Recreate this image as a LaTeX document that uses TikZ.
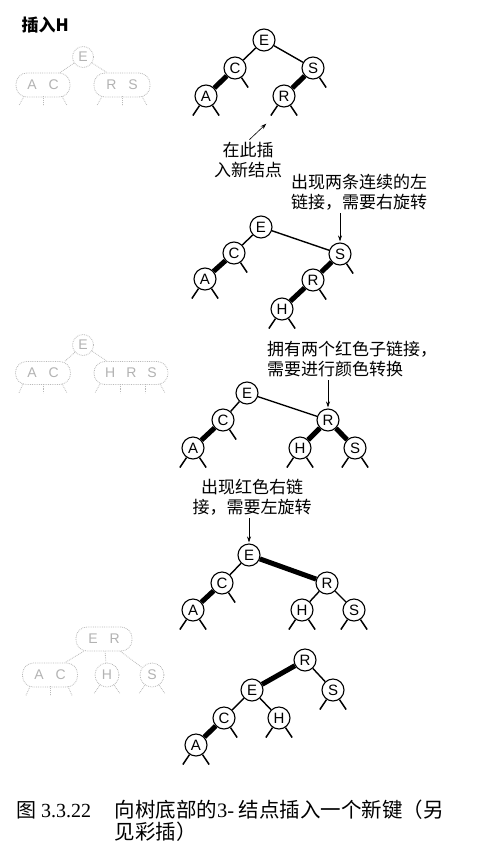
\documentclass[tikz,border=0pt]{standalone}
\usepackage{fontspec}
\setmainfont{Liberation Serif}
\newfontfamily\cjk{Noto Sans CJK SC}
\newfontfamily\keyfont{Liberation Sans}
\usetikzlibrary{positioning,calc,arrows.meta}

\tikzset{
  key/.style={circle, draw, line width=1.1pt, minimum size=22pt, inner sep=0pt,
    font=\keyfont\fontsize{15}{15}\selectfont},
  blink/.style={line width=1.4pt},
  rlink/.style={line width=5pt},
  stub/.style={line width=1.5pt},
  note/.style={font=\cjk\fontsize{17}{20}\selectfont, inner sep=1pt},
  arr/.style={-{Stealth[length=6pt,width=4pt]}, line width=0.6pt, shorten <=2pt, shorten >=1pt},
  gline/.style={draw=gray!55, densely dotted, line width=0.8pt},
  gnode/.style={gline, text=gray!60, font=\keyfont\fontsize{14}{14}\selectfont, inner sep=0pt},
  gkey/.style={gnode, circle, minimum size=21pt},
  gbox/.style={gnode, rounded corners=11pt, minimum height=24pt},
}
% stubs for the null links of a key
\newcommand{\lstub}[1]{\draw[stub] (#1.-124) -- ++(-124:12pt);}
\newcommand{\rstub}[1]{\draw[stub] (#1.-56) -- ++(-56:12pt);}
% stub under a ghost node: node, x offset, x run
\newcommand{\gstub}[3]{\draw[gline] ($(#1.south)+(#2,-1)$) -- ++(#3,9);}

\begin{document}
\begin{tikzpicture}[x=1pt, y=-1pt, on grid]
\useasboundingbox (0,0) rectangle (482,865);

\node[anchor=west, font=\cjk\bfseries\fontsize{17}{17}\selectfont] (title) at (18,25) {插入H};

% ghost 2-3 tree before
\node[gkey] (gE1) at (83,57) {E};
\node[gbox, minimum width=54pt] (gAC1) at (43,85) {A\hspace{12pt}C};
\node[gbox, minimum width=56pt] (gRS1) at (122,85) {R\hspace{12pt}S};
\draw[gline] (gE1) -- ($(gAC1.north)+(17,0)$);
\draw[gline] (gE1) -- ($(gRS1.north)+(-15,0)$);
\gstub{gAC1}{-19}{-5} \gstub{gAC1}{0}{0} \gstub{gAC1}{19}{5}
\gstub{gRS1}{-20}{-5} \gstub{gRS1}{0}{0} \gstub{gRS1}{20}{5}

% tree 1
\node[key] (E1) at (264,40) {E};
\node[key, below left=28pt and 29pt of E1] (C1) {C};
\node[key, below left=28pt and 29pt of C1] (A1) {A};
\node[key, below right=28pt and 49pt of E1] (S1) {S};
\node[key, below left=28pt and 29pt of S1] (R1) {R};
\draw[blink] (E1) -- (C1);
\draw[blink] (E1) -- (S1);
\draw[rlink] (C1) -- (A1);
\draw[rlink] (S1) -- (R1);
\foreach \n in {A1,R1} {\lstub{\n} \rstub{\n}}
\rstub{C1} \rstub{S1}

\node[note, align=center] (L1) at (248,160) {在此插\\入新结点};
\coordinate (ins) at (267,123);
\draw[arr] (L1.north) -- (ins);

% tree 2
\node[note, align=left] (L2) at (359,192) {出现两条连续的左\\链接，需要右旋转};
\node[key] (E2) at (261,227) {E};
\node[key, below left=26pt and 27pt of E2] (C2) {C};
\node[key, below left=26pt and 29pt of C2] (A2) {A};
\node[key, below right=27pt and 79pt of E2] (S2) {S};
\node[key, below left=26pt and 27pt of S2] (R2) {R};
\node[key, below left=29pt and 31pt of R2] (H2) {H};
\draw[blink] (E2) -- (C2);
\draw[blink] (E2) -- (S2);
\draw[rlink] (C2) -- (A2);
\draw[rlink] (S2) -- (R2);
\draw[rlink] (R2) -- (H2);
\foreach \n in {A2,H2} {\lstub{\n} \rstub{\n}}
\rstub{C2} \rstub{R2} \rstub{S2}
\draw[arr] (L2.south -| S2) -- (S2);

% ghost 2-3 tree with temporary 4-node
\node[gkey] (gE2) at (83,345) {E};
\node[gbox, minimum width=55pt, minimum height=23pt] (gAC2) at (43,373) {A\hspace{12pt}C};
\node[gbox, minimum width=74pt, minimum height=23pt] (gHRS2) at (131,373) {H\hspace{11pt}R\hspace{11pt}S};
\draw[gline] (gE2) -- ($(gAC2.north)+(22,0)$);
\draw[gline] (gE2) -- ($(gHRS2.north)+(-24,0)$);
\gstub{gAC2}{-20}{-4} \gstub{gAC2}{0}{0} \gstub{gAC2}{19}{5}
\gstub{gHRS2}{-31}{-5} \gstub{gHRS2}{-11}{0} \gstub{gHRS2}{14}{0} \gstub{gHRS2}{29}{5}

% tree 3
\node[note, anchor=west, align=left] (L3) at (266,359) {拥有两个红色子链接，\\需要进行颜色转换};
\node[key] (E3) at (247,393) {E};
\node[key, below left=27pt and 24pt of E3] (C3) {C};
\node[key, below left=28pt and 30pt of C3] (A3) {A};
\node[key, below right=27pt and 81pt of E3] (R3) {R};
\node[key, below left=28pt and 28pt of R3] (H3) {H};
\node[key, below right=28pt and 27pt of R3] (S3) {S};
\draw[blink] (E3) -- (C3);
\draw[blink] (E3) -- (R3);
\draw[rlink] (C3) -- (A3);
\draw[rlink] (R3) -- (H3);
\draw[rlink] (R3) -- (S3);
\foreach \n in {A3,H3,S3} {\lstub{\n} \rstub{\n}}
\rstub{C3}
\draw[arr] (L3.south -| R3) -- (R3);

% tree 4
\node[note, align=center] (L4) at (252,497) {出现红色右链\\接，需要左旋转};
\node[key] (E4) at (249,555) {E};
\node[key, below left=28pt and 27pt of E4] (C4) {C};
\node[key, below left=27pt and 29pt of C4] (A4) {A};
\node[key, below right=28pt and 78pt of E4] (R4) {R};
\node[key, below left=27pt and 25pt of R4] (H4) {H};
\node[key, below right=27pt and 27pt of R4] (S4) {S};
\draw[blink] (E4) -- (C4);
\draw[rlink] (E4) -- (R4);
\draw[rlink] (C4) -- (A4);
\draw[blink] (R4) -- (H4);
\draw[blink] (R4) -- (S4);
\foreach \n in {A4,H4,S4} {\lstub{\n} \rstub{\n}}
\rstub{C4}
\draw[arr] (L4.south -| E4) -- (E4);

% ghost 2-3 tree after the split
\node[gbox, minimum width=56pt] (gER3) at (104,639) {E\hspace{12pt}R};
\node[gbox, minimum width=55pt] (gAC3) at (50,675) {A\hspace{12pt}C};
\node[gkey, minimum size=24pt] (gH3) at (107,675) {H};
\node[gkey, minimum size=24pt] (gS3) at (152,675) {S};
\draw[gline] (gER3) -- ($(gAC3.north)+(15,0)$);
\draw[gline] (gER3) -- (gH3);
\draw[gline] (gER3) -- (gS3);
\gstub{gAC3}{-20}{-4} \gstub{gAC3}{0}{0} \gstub{gAC3}{18}{4}
\foreach \n in {gH3,gS3} {
  \draw[gline] (\n.-125) -- ++(-125:10pt);
  \draw[gline] (\n.-55) -- ++(-55:10pt);
}

% tree 5
\node[key] (R5) at (305,660) {R};
\node[key, below left=30pt and 53pt of R5] (E5) {E};
\node[key, below right=30pt and 28pt of R5] (S5) {S};
\node[key, below left=28pt and 28pt of E5] (C5) {C};
\node[key, below right=28pt and 27pt of E5] (H5) {H};
\node[key, below left=27pt and 28pt of C5] (A5) {A};
\draw[rlink] (R5) -- (E5);
\draw[blink] (R5) -- (S5);
\draw[blink] (E5) -- (C5);
\draw[blink] (E5) -- (H5);
\draw[rlink] (C5) -- (A5);
\foreach \n in {A5,H5,S5} {\lstub{\n} \rstub{\n}}
\rstub{C5}

% caption
\node[anchor=west, font=\cjk\fontsize{20}{22}\selectfont] (fig) at (13,810) {图 {\rmfamily 3.3.22}};
\node[anchor=west, align=left, font=\cjk\fontsize{20.5}{22}\selectfont] (cap) at (111,821)
  {向树底部的{\rmfamily 3-} 结点插入一个新键（另\\见彩插）};
\end{tikzpicture}
\end{document}
